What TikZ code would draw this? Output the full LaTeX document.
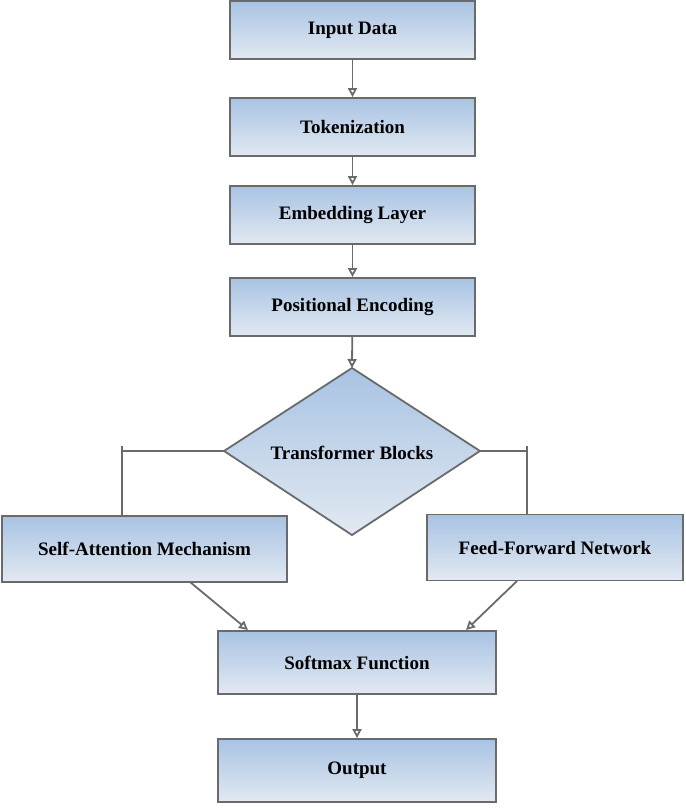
\documentclass[tikz,border=0pt]{standalone}
\usepackage{fontspec}
\setmainfont{Liberation Serif}
\usetikzlibrary{arrows.meta}
\definecolor{topc}{HTML}{A8C3E3}
\definecolor{botc}{HTML}{E2E9F2}
\definecolor{edge}{HTML}{6A6A6A}
\tikzset{
 boxs/.style={draw=edge,line width=1.8pt,top color=topc,bottom color=botc,font=\bfseries\fontsize{19}{22}\selectfont},
 conn/.style={draw=edge,line width=1.8pt},
 arr/.style={conn,-{Triangle[open,length=9pt,width=9pt]}}
}
\begin{document}
\begin{tikzpicture}[x=1pt,y=-1pt]
\useasboundingbox (0,0) rectangle (685,808);
\node[boxs,minimum width=245pt,minimum height=58pt] (in) at (352.5,30) {Input Data};
\node[boxs,minimum width=245pt,minimum height=58pt] (tok) at (352.5,127) {Tokenization};
\node[boxs,minimum width=245pt,minimum height=58pt] (emb) at (352.5,215) {Embedding Layer};
\node[boxs,minimum width=245pt,minimum height=58pt] (pos) at (352.5,307) {Positional Encoding};
\filldraw[boxs] (352,368) -- (480,451) -- (352,535) -- (224,451) -- cycle;
\node[font=\bfseries\fontsize{19}{22}\selectfont] (tb) at (352,453) {Transformer Blocks};
\coordinate (dl) at (224,451);
\coordinate (dr) at (480,451);
\coordinate (dt) at (352,368);
\node[boxs,minimum width=285pt,minimum height=66pt] (sa) at (144.5,549) {Self-Attention Mechanism};
\node[boxs,minimum width=256pt,minimum height=66pt] (ff) at (555,547.5) {Feed-Forward Network};
\node[boxs,minimum width=278pt,minimum height=63pt] (sm) at (357,662.5) {Softmax Function};
\node[boxs,minimum width=278pt,minimum height=63pt] (out) at (357,770.5) {Output};
\draw[arr] (in) -- (tok);
\draw[arr] (tok) -- (emb);
\draw[arr] (emb) -- (pos);
\draw[arr] (pos) -- (dt);
\draw[conn] (dl) -- (122,451) -- (122,516);
\draw[conn] (122,446) -- (122,456);
\draw[conn] (dr) -- (527,451) -- (527,515);
\draw[conn] (527,446) -- (527,456);
\draw[arr] (190,582) -- (248,630);
\draw[arr] (517,581) -- (466,630);
\draw[arr] (sm) -- (out);
\end{tikzpicture}
\end{document}
